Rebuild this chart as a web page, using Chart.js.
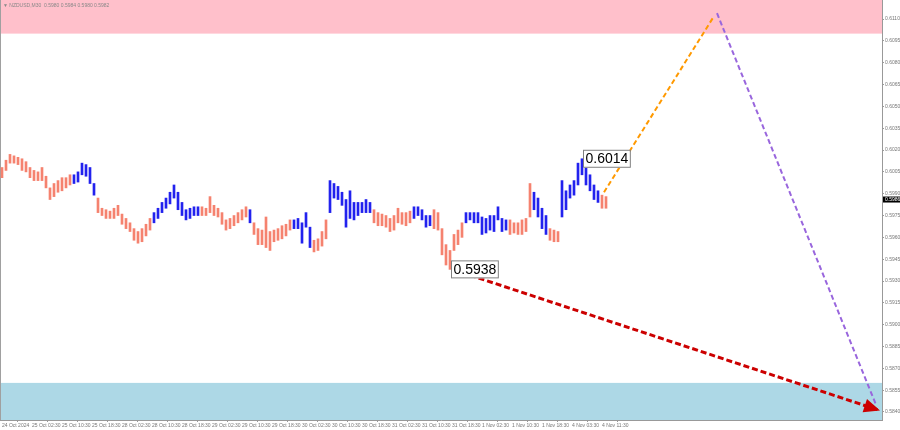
<!DOCTYPE html>
<html><head><meta charset="utf-8">
<script src="https://cdn.jsdelivr.net/npm/chart.js@4/dist/chart.umd.min.js"></script>
<style>html,body{margin:0;padding:0;background:#fff;overflow:hidden}</style>
</head><body>
<canvas id="c" width="900" height="430"></canvas>
<script>
// ---- data ----
const chartTitle = '\u25BC NZDUSD,M30  0.5980 0.5984 0.5980 0.5982';
const timeLabels = ['24 Oct 2024','25 Oct 02:30','25 Oct 10:30','25 Oct 18:30','28 Oct 02:30','28 Oct 10:30','28 Oct 18:30','29 Oct 02:30','29 Oct 10:30','29 Oct 18:30','30 Oct 02:30','30 Oct 10:30','30 Oct 18:30','31 Oct 02:30','31 Oct 10:30','31 Oct 18:30','1 Nov 02:30','1 Nov 10:30','1 Nov 18:30','4 Nov 03:30','4 Nov 11:30'];
const yTicks = [0.5840,0.5855,0.5870,0.5885,0.5900,0.5915,0.5930,0.5945,0.5960,0.5975,0.5990,0.6005,0.6020,0.6035,0.6050,0.6065,0.6080,0.6095,0.6110];
const highs = [0.6008,0.6013,0.6017,0.6016,0.6015,0.6014,0.6012,0.6008,0.6006,0.6005,0.6008,0.6002,0.5994,0.5997,0.5999,0.6001,0.6001,0.6003,0.6003,0.6005,
0.6011,0.6010,0.6008,0.5997,0.5987,0.5980,0.5979,0.5978,0.5980,0.5982,0.5976,0.5973,0.5970,0.5966,0.5964,0.5966,0.5969,0.5973,0.5977,0.5980,
0.5984,0.5987,0.5991,0.5996,0.5991,0.5984,0.5979,0.5980,0.5981,0.5981,0.5981,0.5980,0.5988,0.5982,0.5980,0.5977,0.5972,0.5973,0.5975,0.5977,
0.5979,0.5981,0.5979,0.5970,0.5966,0.5965,0.5974,0.5964,0.5965,0.5966,0.5968,0.5969,0.5972,0.5972,0.5973,0.5970,0.5977,0.5967,0.5958,0.5959,
0.5964,0.5972,0.5999,0.5997,0.5995,0.5991,0.5986,0.5992,0.5984,0.5984,0.5984,0.5986,0.5984,0.5979,0.5977,0.5976,0.5975,0.5973,0.5975,0.5980,
0.5977,0.5977,0.5978,0.5981,0.5981,0.5979,0.5975,0.5975,0.5979,0.5977,0.5966,0.5955,0.5951,0.5962,0.5965,0.5970,0.5977,0.5977,0.5977,0.5977,
0.5974,0.5973,0.5975,0.5975,0.5981,0.5973,0.5972,0.5972,0.5970,0.5970,0.5972,0.5973,0.5997,0.5991,0.5987,0.5980,0.5975,0.5966,0.5965,0.5964,
0.5999,0.5992,0.5996,0.5999,0.6011,0.6014,0.6008,0.6003,0.5996,0.5992,0.5989,0.5988];
const lows = [0.6001,0.6006,0.6011,0.6011,0.6010,0.6006,0.6005,0.6001,0.5999,0.5999,0.5999,0.5994,0.5986,0.5988,0.5991,0.5992,0.5994,0.5996,0.5997,0.5998,
0.6003,0.6002,0.5997,0.5989,0.5977,0.5975,0.5973,0.5973,0.5973,0.5975,0.5969,0.5966,0.5964,0.5958,0.5956,0.5957,0.5961,0.5965,0.5970,0.5973,
0.5977,0.5980,0.5983,0.5987,0.5979,0.5975,0.5972,0.5973,0.5975,0.5975,0.5975,0.5975,0.5977,0.5975,0.5974,0.5969,0.5965,0.5966,0.5968,0.5970,
0.5972,0.5974,0.5970,0.5962,0.5955,0.5955,0.5953,0.5951,0.5957,0.5958,0.5959,0.5961,0.5965,0.5966,0.5966,0.5956,0.5967,0.5953,0.5950,0.5951,
0.5954,0.5959,0.5977,0.5987,0.5986,0.5982,0.5967,0.5973,0.5972,0.5975,0.5977,0.5977,0.5977,0.5970,0.5968,0.5968,0.5967,0.5964,0.5965,0.5970,
0.5969,0.5968,0.5970,0.5973,0.5975,0.5972,0.5967,0.5968,0.5966,0.5965,0.5948,0.5941,0.5938,0.5951,0.5955,0.5960,0.5970,0.5972,0.5970,0.5970,
0.5962,0.5963,0.5965,0.5964,0.5972,0.5964,0.5965,0.5962,0.5963,0.5962,0.5962,0.5964,0.5974,0.5979,0.5974,0.5966,0.5962,0.5958,0.5957,0.5957,
0.5974,0.5979,0.5987,0.5989,0.5996,0.6003,0.5996,0.5992,0.5986,0.5984,0.5980,0.5980];
// 1 = blue wave segment, 0 = salmon wave segment
const dir = [0,0,0,0,0,0,0,0,0,0,0,0,0,0,0,0,0,0,1,1,
1,1,1,1,0,0,0,0,0,0,0,0,0,0,0,0,0,0,1,1,
1,1,1,1,1,1,1,1,1,1,0,0,0,0,0,0,0,0,0,0,
0,0,1,0,0,0,0,0,0,0,0,0,0,1,1,1,1,1,0,0,
0,0,1,1,1,1,1,1,1,1,1,1,1,0,0,0,0,0,0,0,
0,0,0,1,1,1,1,1,0,0,0,0,0,0,0,0,1,1,1,1,
1,1,1,1,1,1,1,0,0,0,0,0,0,1,1,1,1,0,0,0,
1,1,1,1,1,1,1,1,1,1,0,0];
const pinkZone = [0.6100, 0.6124];
const blueZone = [0.5834, 0.5860];
const forecastUp = [{x:150.5, y:0.5991},{x:178, y:0.6112}];
const forecastDown = [{x:178.75, y:0.6114},{x:218.5, y:0.5845}];
const forecastRed = [{x:117, y:0.5934},{x:219.5, y:0.5841}];
const priceMarks = [{x:145, y:0.6014, text:'0.6014'},{x:112, y:0.5938, text:'0.5938'}];
const currentPrice = 0.5986;

// ---- chart ----
const bars = highs.map((h,i)=>({x:i, y:[lows[i], h]}));
const FONT = "'Liberation Sans', Arial, sans-serif";

const decor = {
  id:'decor',
  beforeDatasetsDraw(chart){
    const {ctx, chartArea:a, scales:{y}} = chart;
    ctx.save();
    ctx.fillStyle = '#ffc0cb';
    let t = y.getPixelForValue(pinkZone[1]), b = y.getPixelForValue(pinkZone[0]);
    t = Math.max(t, a.top);
    ctx.fillRect(a.left, t, a.right-a.left, b-t);
    ctx.fillStyle = '#add8e6';
    t = y.getPixelForValue(blueZone[1]); b = Math.min(y.getPixelForValue(blueZone[0]), a.bottom);
    ctx.fillRect(a.left, t, a.right-a.left, b-t);
    // left border
    ctx.fillStyle = '#a0a0a0';
    ctx.fillRect(a.left, a.top, 1, a.bottom-a.top);
    // title
    ctx.fillStyle = '#888';
    ctx.font = '5px ' + FONT;
    ctx.textBaseline = 'middle';
    ctx.fillText(chartTitle, 3, 6);
    ctx.restore();
  },
  afterDatasetsDraw(chart){
    const {ctx, chartArea:a, scales:{x,y}} = chart;
    ctx.save();
    const head = (pts, color, len, wid) => {
      const p0 = pts[0], p1 = pts[1];
      const x0 = x.getPixelForValue(p0.x), y0 = y.getPixelForValue(p0.y);
      const x1 = x.getPixelForValue(p1.x), y1 = y.getPixelForValue(p1.y);
      const ang = Math.atan2(y1-y0, x1-x0);
      ctx.fillStyle = color;
      ctx.beginPath();
      ctx.moveTo(x1, y1);
      ctx.lineTo(x1 - len*Math.cos(ang) + wid*Math.sin(ang), y1 - len*Math.sin(ang) - wid*Math.cos(ang));
      ctx.lineTo(x1 - len*Math.cos(ang) - wid*Math.sin(ang), y1 - len*Math.sin(ang) + wid*Math.cos(ang));
      ctx.closePath();
      ctx.fill();
    };
    head(forecastRed, '#cc0000', 16, 7);
    ctx.font = '14px ' + FONT;
    ctx.textBaseline = 'middle';
    priceMarks.forEach(m => {
      const px = x.getPixelForValue(m.x) + 1, py = y.getPixelForValue(m.y);
      const w = ctx.measureText(m.text).width + 4;
      ctx.fillStyle = '#fff';
      ctx.fillRect(px, py-9, w, 18);
      ctx.strokeStyle = '#808080';
      ctx.lineWidth = 1;
      ctx.strokeRect(px+0.5, py-8.5, w, 17);
      ctx.fillStyle = '#000';
      ctx.fillText(m.text, px+2.5, py+0.5);
    });
    const cy = y.getPixelForValue(currentPrice);
    ctx.fillStyle = '#000';
    ctx.fillRect(a.right+1, cy-3, 18, 6);
    ctx.fillStyle = '#fff';
    ctx.font = '5px ' + FONT;
    ctx.fillText(currentPrice.toFixed(4), a.right+3, cy);
    ctx.restore();
  }
};

new Chart(document.getElementById('c'), {
  type:'bar',
  data:{
    datasets:[
      {type:'line', data:forecastUp, borderColor:'#ff9900', borderWidth:2, borderDash:[5,3], pointRadius:0, order:1},
      {type:'line', data:forecastDown, borderColor:'#9966dd', borderWidth:2, borderDash:[5,3], pointRadius:0, order:1},
      {type:'line', data:forecastRed, borderColor:'#cc0000', borderWidth:3, borderDash:[6,3], pointRadius:0, order:1},
      {type:'bar', data:bars, backgroundColor: dir.map(d => d ? '#2222ee' : '#f5826f'), barThickness:2, order:2}
    ]
  },
  options:{
    responsive:false, animation:false,
    layout:{padding:0},
    plugins:{legend:{display:false}, tooltip:{enabled:false}},
    scales:{
      x:{type:'linear', min:-0.5, max:220, offset:false,
        afterFit(s){ s.height = 10; s.paddingLeft = 0; s.paddingRight = 0; },
        afterBuildTicks(s){ s.ticks = timeLabels.map((l,k)=>({value:k*7.5})); },
        grid:{drawOnChartArea:false, drawTicks:true, tickLength:2, color:'#999'},
        border:{color:'#999'},
        ticks:{autoSkip:false, maxRotation:0, align:'start', padding:1, color:'#777', font:{size:5, family:FONT},
          callback:(v,i)=>timeLabels[i]}
      },
      y:{type:'linear', position:'right', min:0.58345, max:0.61231,
        afterFit(s){ s.width = 18; s.paddingTop = 0; s.paddingBottom = 0; },
        afterBuildTicks(s){ s.ticks = yTicks.map(v=>({value:v})); },
        grid:{drawOnChartArea:false, drawTicks:true, tickLength:2, color:'#999'},
        border:{color:'#999'},
        ticks:{padding:1, color:'#777', font:{size:5, family:FONT}, callback:v=>v.toFixed(4)}
      }
    }
  },
  plugins:[decor]
});
</script>
</body></html>
